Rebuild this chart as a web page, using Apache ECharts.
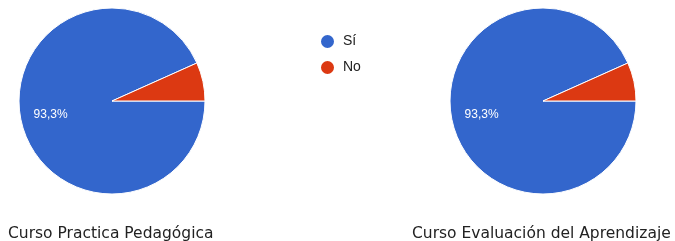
<!DOCTYPE html>
<html>
<head>
<meta charset="utf-8">
<script src="https://cdn.jsdelivr.net/npm/echarts@6/dist/echarts.min.js"></script>
<style>
  html, body { margin: 0; padding: 0; background: #fff; }
  #chart { width: 675px; height: 241px; }
</style>
</head>
<body>
<div id="chart"></div>
<script>
const answers = ['Sí', 'No']
const courses = ['Curso Practica Pedagógica', 'Curso Evaluación del Aprendizaje']
const practicaValues = [93.3, 6.7]
const evaluacionValues = [93.3, 6.7]

const colors = ['#3366cc', '#dc3912']
const centers = [[112, 101], [543, 101]]
const titleLeft = [3, 407]

const chart = echarts.init(document.getElementById('chart'), null, { renderer: 'canvas' })

function pieSeries(name, values, center) {
  return {
    name: name,
    type: 'pie',
    center: center,
    radius: [0, 93],
    startAngle: 0,
    clockwise: true,
    animation: false,
    silent: true,
    itemStyle: { borderColor: '#fff', borderWidth: 1 },
    label: {
      position: 'inside',
      color: '#fff',
      fontFamily: 'Liberation Sans, Arial, sans-serif',
      fontSize: 12,
      formatter: (p) => p.percent.toFixed(1).replace('.', ',') + '%'
    },
    labelLayout: { dx: -13, dy: 3 },
    labelLine: { show: false },
    data: answers.map((a, i) => ({
      name: a,
      value: values[i],
      label: { show: i === 0 }
    }))
  }
}

chart.setOption({
  animation: false,
  backgroundColor: '#fff',
  color: colors,
  title: courses.map((c, i) => ({
    text: c,
    left: titleLeft[i],
    top: 221,
    textStyle: {
      fontFamily: 'DejaVu Sans, Verdana, sans-serif',
      fontSize: 15.5,
      fontWeight: 'normal',
      color: '#222'
    }
  })),
  legend: {
    data: answers,
    orient: 'vertical',
    left: 314,
    top: 28,
    icon: 'circle',
    itemWidth: 15,
    itemHeight: 15,
    itemGap: 9,
    textStyle: {
      fontFamily: 'Liberation Sans, Arial, sans-serif',
      fontSize: 14,
      color: '#222',
      padding: [0, 0, 0, 3]
    }
  },
  series: [
    pieSeries(courses[0], practicaValues, centers[0]),
    pieSeries(courses[1], evaluacionValues, centers[1])
  ]
})
</script>
</body>
</html>
